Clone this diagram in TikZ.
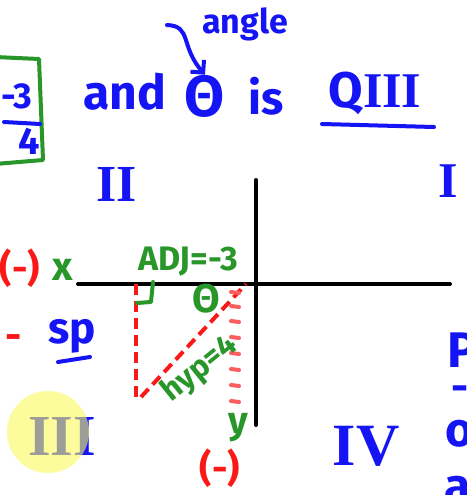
\documentclass[tikz,border=0pt]{standalone}
\usepackage{fontspec}
\setmainfont{Fira Sans}
\newfontfamily\romanfont{Liberation Serif}
\usetikzlibrary{arrows.meta}
\definecolor{penblue}{RGB}{20,20,245}
\definecolor{pengreen}{RGB}{40,150,40}
\definecolor{penred}{RGB}{250,25,25}
\definecolor{hilite}{RGB}{250,250,90}
\tikzset{
  bluetxt/.style={text=penblue, inner sep=0pt},
  greentxt/.style={text=pengreen, inner sep=0pt},
  redtxt/.style={text=penred, inner sep=0pt},
  axis/.style={line width=4pt, line cap=round, black},
  redline/.style={line width=4pt, penred, dash pattern=on 11pt off 6pt},
  faintdash/.style={line width=4pt, penred!70, line cap=round},
  bluestroke/.style={line width=4pt, penblue, line cap=round, line join=round},
  greenstroke/.style={line width=4pt, pengreen, line cap=round, line join=round},
}
\newcommand{\fs}[1]{\fontsize{#1}{#1}\selectfont\bfseries}
\begin{document}
\begin{tikzpicture}[x=1pt,y=-1pt]
\useasboundingbox (0,0) rectangle (466,495);
\clip (0,0) rectangle (466,495);

% axes
\coordinate (xl) at (78,284);
\coordinate (xr) at (450,284);
\coordinate (yt) at (256,180);
\coordinate (yb) at (256,425);
\draw[axis] (xl) -- (xr);
\draw[axis] (yt) -- (yb);

% triangle
\coordinate (A) at (136,284);
\coordinate (B) at (136,398);
\coordinate (C) at (141,397);
\coordinate (D) at (246,284);
\draw[redline] (A) -- (B);
\draw[redline] (C) -- (D);
\foreach \yy in {292,306,321,337,353,369,385,401}
  \draw[faintdash] (231,\yy) -- (239,\yy+1);

% top line
\node[bluetxt, font=\fs{48}] (and) at (125,92) {and};
\node[bluetxt, font=\fs{58}] (theta) at (205,96) {Θ};
\node[bluetxt, font=\fs{46}] (is) at (266,96) {is};
\node[bluetxt, font=\fs{50}] (q3) at (375,93) {Q{\romanfont III}};
\coordinate (ul1) at (322,124);
\coordinate (ul2) at (434,127);
\draw[bluestroke] (ul1) -- (ul2);
\node[bluetxt, font=\fs{34}] (angle) at (245,24) {angle};
\coordinate (arrs) at (167,25);
\draw[bluestroke, -{Straight Barb[length=9pt,width=18pt]}] (arrs) .. controls (192,26) and (180,46) .. (theta.north);

% left box with fraction
\coordinate (bx1) at (-5,57);
\coordinate (bx2) at (39,59);
\coordinate (bx3) at (43,160);
\coordinate (bx4) at (-5,164);
\draw[greenstroke] (bx1) -- (bx2) -- (bx3) -- (bx4);
\node[bluetxt, font=\fs{36}] (m3) at (17,96) {-3};
\coordinate (fb1) at (4,122);
\coordinate (fb2) at (40,124);
\draw[bluestroke] (fb1) -- (fb2);
\node[bluetxt, font=\fs{38}] (four) at (29,141) {4};

% quadrant numerals
\node[bluetxt, font=\romanfont\fs{52}] (q2) at (117,184) {II};
\node[bluetxt, font=\romanfont\fs{50}] (q1) at (448,181) {I};
\node[bluetxt, font=\romanfont\fs{60}] (q4) at (366,446) {IV};
\node[bluetxt, font=\romanfont\fs{58}] (q3b) at (62,437) {III};
\fill[hilite, opacity=0.6] (48,432) circle (41pt);

% left labels
\node[redtxt, font=\fs{38}] (negx) at (20,268) {(-)};
\node[greentxt, font=\fs{40}] (xlab) at (63,270) {x};
\node[redtxt, font=\fs{40}] (dash) at (14,342) {-};
\node[bluetxt, font=\fs{44}] (sp) at (72,336) {sp};
\coordinate (sp1) at (58,362);
\coordinate (sp2) at (90,357);
\draw[bluestroke] (sp1) -- (sp2);

% triangle labels
\node[greentxt, font=\fs{34}] (adj) at (188,262) {ADJ=-3};
\node[greentxt, font=\fs{40}] (gtheta) at (206,299) {Θ};
\coordinate (h1) at (153,282);
\coordinate (h2) at (151,302);
\coordinate (h3) at (137,303);
\draw[greenstroke] (h1) -- (h2) -- (h3);
\node[greentxt, font=\fs{31}, rotate=39] (hyp) at (200,369) {hyp=4};
\node[greentxt, font=\fs{38}] (ylab) at (238,428) {y};
\node[redtxt, font=\fs{38}] (negy) at (220,468) {(-)};

% right edge partial text
\node[bluetxt, font=\fs{50}] (p) at (462,350) {P};
\node[bluetxt, font=\fs{42}] (dash2) at (460,394) {-};
\node[bluetxt, font=\fs{48}] (o) at (460,434) {o};
\node[bluetxt, font=\fs{48}] (a) at (458,490) {a};
\end{tikzpicture}
\end{document}
